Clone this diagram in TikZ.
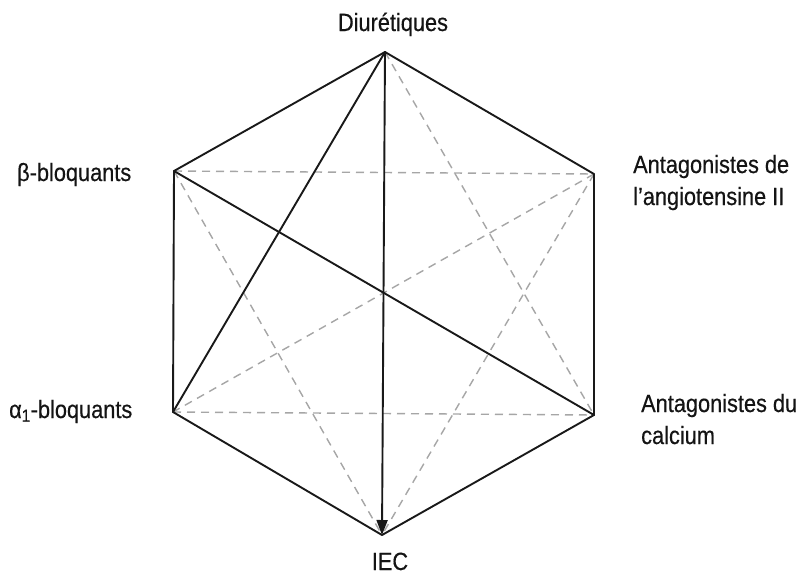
\documentclass[tikz,border=0pt]{standalone}
\usepackage{fontspec}
\setmainfont{Liberation Sans}[FakeStretch=0.87,FakeBold=0.4]
\usetikzlibrary{arrows.meta}
\tikzset{
  solidline/.style={line width=1.9pt, draw=black!90, line join=round, line cap=round},
  dashline/.style={line width=1.4pt, draw=black!35, dash pattern=on 8pt off 6pt},
  lbl/.style={inner sep=0pt, font=\fontsize{25}{30}\selectfont, text=black!92}
}
\begin{document}
\begin{tikzpicture}[x=1pt,y=-1pt]
\useasboundingbox (0,0) rectangle (800,576);
\fill[white] (0,0) rectangle (800,576);
% vertices
\coordinate (D) at (385,52);
\coordinate (B) at (174,171);
\coordinate (A) at (594,174);
\coordinate (Al) at (173,412);
\coordinate (C) at (594,415);
\coordinate (I) at (382,535);
% dashed diagonals
\draw[dashline] (B) -- (A);
\draw[dashline] (Al) -- (C);
\draw[dashline] (B) -- (I);
\draw[dashline] (A) -- (I);
\draw[dashline] (A) -- (Al);
\draw[dashline] (D) -- (C);
% hexagon
\draw[solidline] (D) -- (A) -- (C) -- (I) -- (Al) -- (B) -- cycle;
% solid diagonals
\draw[solidline] (D) -- (Al);
\draw[solidline] (B) -- (C);
\draw[solidline, line cap=butt, -{Triangle[length=15pt,width=11pt]}] (D) -- (I);
% labels
\node[lbl, anchor=base] (tD) at (393,31) {Diurétiques};
\node[lbl, anchor=base west] (tB) at (17,181) {β-bloquants};
\node[lbl, anchor=base west] (tAl) at (9,418) {α\textsubscript{1}-bloquants};
\node[lbl, anchor=base west] (tA1) at (633,173) {Antagonistes de};
\node[lbl, anchor=base west] (tA2) at (633,205) {l’angiotensine II};
\node[lbl, anchor=base west] (tC1) at (641,412) {Antagonistes du};
\node[lbl, anchor=base west] (tC2) at (641,444) {calcium};
\node[lbl, anchor=base] (tI) at (390,570) {IEC};
\end{tikzpicture}
\end{document}
